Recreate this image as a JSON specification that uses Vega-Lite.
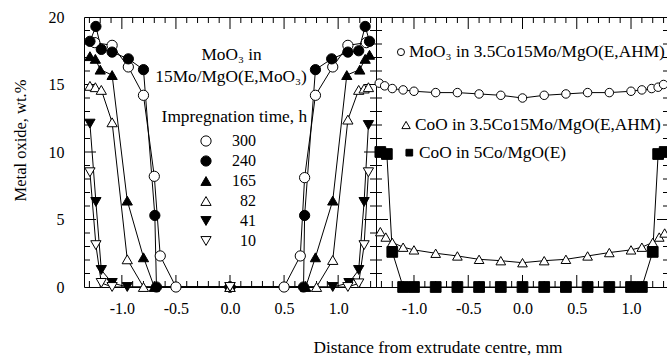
{
  "$schema": "https://vega.github.io/schema/vega-lite/v6.json",
  "usermeta": {"embedOptions": {"actions": false}},
  "padding": {"left": 11, "top": 8, "right": 0, "bottom": 0},
  "background": "white",
  "title": {"text": "Distance from extrudate centre, mm", "orient": "bottom", "anchor": "middle", "frame": "bounds", "dx": 96, "offset": 22, "fontSize": 17.3, "fontWeight": "normal", "font": "Liberation Serif", "color": "black"},
  "datasets": {
    "xMajor": [{"v": -1}, {"v": -0.5}, {"v": 0}, {"v": 0.5}, {"v": 1}],
    "xMinor": [{"v": -1.3}, {"v": -1.2}, {"v": -1.1}, {"v": -0.9}, {"v": -0.8}, {"v": -0.7}, {"v": -0.6}, {"v": -0.4}, {"v": -0.3}, {"v": -0.2}, {"v": -0.1}, {"v": 0.1}, {"v": 0.2}, {"v": 0.3}, {"v": 0.4}, {"v": 0.6}, {"v": 0.7}, {"v": 0.8}, {"v": 0.9}, {"v": 1.1}, {"v": 1.2}, {"v": 1.3}],
    "yMajor": [{"v": 5}, {"v": 10}, {"v": 15}],
    "yMinor": [{"v": 1}, {"v": 2}, {"v": 3}, {"v": 4}, {"v": 6}, {"v": 7}, {"v": 8}, {"v": 9}, {"v": 11}, {"v": 12}, {"v": 13}, {"v": 14}, {"v": 16}, {"v": 17}, {"v": 18}, {"v": 19}],
    "left": [
      {"x": -1.25, "y": 18.1, "series": "300"}, {"x": -1.09, "y": 17.9, "series": "300"}, {"x": -0.94, "y": 16.3, "series": "300"}, {"x": -0.8, "y": 14.2, "series": "300"}, {"x": -0.7, "y": 8.2, "series": "300"}, {"x": -0.645, "y": 2.3, "series": "300"}, {"x": -0.5, "y": 0, "series": "300"}, {"x": 0, "y": 0, "series": "300"}, {"x": 0.5, "y": 0, "series": "300"}, {"x": 0.65, "y": 2.3, "series": "300"}, {"x": 0.69, "y": 8.1, "series": "300"}, {"x": 0.79, "y": 14.2, "series": "300"}, {"x": 0.95, "y": 16.3, "series": "300"}, {"x": 1.09, "y": 17.9, "series": "300"}, {"x": 1.26, "y": 18.1, "series": "300"},
      {"x": -1.295, "y": 18.2, "series": "240"}, {"x": -1.24, "y": 19.3, "series": "240"}, {"x": -1.19, "y": 17.6, "series": "240"}, {"x": -1.09, "y": 17.4, "series": "240"}, {"x": -0.94, "y": 16.9, "series": "240"}, {"x": -0.8, "y": 16.1, "series": "240"}, {"x": -0.695, "y": 5.3, "series": "240"}, {"x": -0.68, "y": 0, "series": "240"}, {"x": 0, "y": 0, "series": "240"}, {"x": 0.68, "y": 0, "series": "240"}, {"x": 0.69, "y": 5.3, "series": "240"}, {"x": 0.79, "y": 16.1, "series": "240"}, {"x": 0.94, "y": 16.9, "series": "240"}, {"x": 1.09, "y": 17.4, "series": "240"}, {"x": 1.19, "y": 17.5, "series": "240"}, {"x": 1.25, "y": 19.3, "series": "240"}, {"x": 1.29, "y": 18.2, "series": "240"},
      {"x": -1.295, "y": 17.1, "series": "165"}, {"x": -1.245, "y": 16.9, "series": "165"}, {"x": -1.2, "y": 16.1, "series": "165"}, {"x": -1.09, "y": 15.7, "series": "165"}, {"x": -0.95, "y": 6.4, "series": "165"}, {"x": -0.8, "y": 2.2, "series": "165"}, {"x": -0.7, "y": 0, "series": "165"}, {"x": 0, "y": 0, "series": "165"}, {"x": 0.7, "y": 0, "series": "165"}, {"x": 0.79, "y": 2.2, "series": "165"}, {"x": 0.95, "y": 6.4, "series": "165"}, {"x": 1.08, "y": 15.7, "series": "165"}, {"x": 1.2, "y": 16.1, "series": "165"}, {"x": 1.25, "y": 16.9, "series": "165"}, {"x": 1.29, "y": 17.2, "series": "165"},
      {"x": -1.295, "y": 14.9, "series": "82"}, {"x": -1.245, "y": 14.8, "series": "82"}, {"x": -1.19, "y": 14.6, "series": "82"}, {"x": -1.09, "y": 12.2, "series": "82"}, {"x": -0.95, "y": 2.05, "series": "82"}, {"x": -0.8, "y": 0, "series": "82"}, {"x": 0, "y": 0, "series": "82"}, {"x": 0.8, "y": 0, "series": "82"}, {"x": 0.95, "y": 2.0, "series": "82"}, {"x": 1.09, "y": 12.4, "series": "82"}, {"x": 1.19, "y": 14.6, "series": "82"}, {"x": 1.24, "y": 14.7, "series": "82"}, {"x": 1.28, "y": 14.8, "series": "82"},
      {"x": -1.295, "y": 12.1, "series": "41"}, {"x": -1.24, "y": 6.3, "series": "41"}, {"x": -1.19, "y": 1.26, "series": "41"}, {"x": -1.09, "y": 0.3, "series": "41"}, {"x": -0.95, "y": 0, "series": "41"}, {"x": 0, "y": 0, "series": "41"}, {"x": 0.95, "y": 0, "series": "41"}, {"x": 1.1, "y": 0.3, "series": "41"}, {"x": 1.19, "y": 1.26, "series": "41"}, {"x": 1.24, "y": 6.3, "series": "41"}, {"x": 1.28, "y": 12.0, "series": "41"},
      {"x": -1.295, "y": 8.5, "series": "10"}, {"x": -1.24, "y": 3.1, "series": "10"}, {"x": -1.19, "y": 0.3, "series": "10"}, {"x": -1.09, "y": 0, "series": "10"}, {"x": 0, "y": 0, "series": "10"}, {"x": 1.09, "y": 0, "series": "10"}, {"x": 1.19, "y": 0.27, "series": "10"}, {"x": 1.24, "y": 3.1, "series": "10"}, {"x": 1.28, "y": 8.5, "series": "10"}
    ],
    "right": [
      {"x": -1.32, "y": 15.1, "series": "MoO3 AHM"}, {"x": -1.27, "y": 14.9, "series": "MoO3 AHM"}, {"x": -1.2, "y": 14.7, "series": "MoO3 AHM"}, {"x": -1.1, "y": 14.6, "series": "MoO3 AHM"}, {"x": -1.0, "y": 14.5, "series": "MoO3 AHM"}, {"x": -0.8, "y": 14.4, "series": "MoO3 AHM"}, {"x": -0.6, "y": 14.4, "series": "MoO3 AHM"}, {"x": -0.4, "y": 14.3, "series": "MoO3 AHM"}, {"x": -0.2, "y": 14.2, "series": "MoO3 AHM"}, {"x": 0, "y": 14.0, "series": "MoO3 AHM"}, {"x": 0.2, "y": 14.2, "series": "MoO3 AHM"}, {"x": 0.4, "y": 14.3, "series": "MoO3 AHM"}, {"x": 0.6, "y": 14.4, "series": "MoO3 AHM"}, {"x": 0.8, "y": 14.4, "series": "MoO3 AHM"}, {"x": 1.0, "y": 14.5, "series": "MoO3 AHM"}, {"x": 1.1, "y": 14.6, "series": "MoO3 AHM"}, {"x": 1.19, "y": 14.7, "series": "MoO3 AHM"}, {"x": 1.25, "y": 14.8, "series": "MoO3 AHM"}, {"x": 1.3, "y": 15.0, "series": "MoO3 AHM"},
      {"x": -1.31, "y": 4.1, "series": "CoO AHM"}, {"x": -1.26, "y": 3.7, "series": "CoO AHM"}, {"x": -1.2, "y": 3.3, "series": "CoO AHM"}, {"x": -1.1, "y": 2.95, "series": "CoO AHM"}, {"x": -1.0, "y": 2.75, "series": "CoO AHM"}, {"x": -0.8, "y": 2.5, "series": "CoO AHM"}, {"x": -0.6, "y": 2.3, "series": "CoO AHM"}, {"x": -0.4, "y": 2.05, "series": "CoO AHM"}, {"x": -0.2, "y": 1.95, "series": "CoO AHM"}, {"x": 0, "y": 1.8, "series": "CoO AHM"}, {"x": 0.2, "y": 1.95, "series": "CoO AHM"}, {"x": 0.4, "y": 2.05, "series": "CoO AHM"}, {"x": 0.6, "y": 2.3, "series": "CoO AHM"}, {"x": 0.8, "y": 2.55, "series": "CoO AHM"}, {"x": 1.0, "y": 2.75, "series": "CoO AHM"}, {"x": 1.1, "y": 2.95, "series": "CoO AHM"}, {"x": 1.2, "y": 3.3, "series": "CoO AHM"}, {"x": 1.26, "y": 3.7, "series": "CoO AHM"}, {"x": 1.31, "y": 4.0, "series": "CoO AHM"},
      {"x": -1.31, "y": 10.0, "series": "CoO 5Co"}, {"x": -1.25, "y": 9.85, "series": "CoO 5Co"}, {"x": -1.2, "y": 2.6, "series": "CoO 5Co"}, {"x": -1.1, "y": 0, "series": "CoO 5Co"}, {"x": -1.0, "y": 0, "series": "CoO 5Co"}, {"x": -0.8, "y": 0, "series": "CoO 5Co"}, {"x": -0.6, "y": 0, "series": "CoO 5Co"}, {"x": -0.4, "y": 0, "series": "CoO 5Co"}, {"x": -0.2, "y": 0, "series": "CoO 5Co"}, {"x": 0, "y": 0, "series": "CoO 5Co"}, {"x": 0.2, "y": 0, "series": "CoO 5Co"}, {"x": 0.4, "y": 0, "series": "CoO 5Co"}, {"x": 0.6, "y": 0, "series": "CoO 5Co"}, {"x": 0.8, "y": 0, "series": "CoO 5Co"}, {"x": 1.0, "y": 0, "series": "CoO 5Co"}, {"x": 1.1, "y": 0, "series": "CoO 5Co"}, {"x": 1.2, "y": 2.6, "series": "CoO 5Co"}, {"x": 1.25, "y": 9.85, "series": "CoO 5Co"}, {"x": 1.31, "y": 10.0, "series": "CoO 5Co"}
    ]
  },
  "spacing": 0,
  "bounds": "flush",
  "resolve": {"scale": {"shape": "independent", "fill": "independent", "size": "independent"}},
  "hconcat": [
    {
      "width": 292,
      "height": 270,
      "layer": [
        {
          "data": {"name": "left"},
          "mark": {"type": "line", "color": "black", "strokeWidth": 1},
          "encoding": {
            "x": {"field": "x", "type": "quantitative", "scale": {"domain": [-1.35, 1.35], "nice": false, "zero": false},
                  "axis": {"orient": "bottom", "values": [-1, -0.5, 0, 0.5, 1], "ticks": false, "grid": false, "labelPadding": 13, "labelExpr": "replace(format(datum.value, '.1f'), '\u2212', '-')", "title": null, "domain": false, "labelOverlap": false, "labelFlush": false}},
            "y": {"field": "y", "type": "quantitative", "scale": {"domain": [0, 20], "nice": false, "zero": false},
                  "axis": {"orient": "left", "values": [0, 5, 10, 15, 20], "ticks": false, "grid": false, "labelPadding": 20, "title": "Metal oxide, wt.%", "titleX": -64, "titleY": 123, "titleAngle": -90, "titleAlign": "center", "titleBaseline": "middle", "titleFontSize": 16.5, "domain": false, "labelOverlap": false, "labelFlush": false}},
            "detail": {"field": "series", "type": "nominal"}
          }
        },
        {"data": {"name": "xMajor"}, "mark": {"type": "tick", "orient": "vertical", "size": 24, "thickness": 1, "color": "black", "opacity": 1, "clip": true},
         "encoding": {"x": {"field": "v", "type": "quantitative"}, "y": {"datum": 0}}},
        {"data": {"name": "xMajor"}, "mark": {"type": "tick", "orient": "vertical", "size": 24, "thickness": 1, "color": "black", "opacity": 1, "clip": true},
         "encoding": {"x": {"field": "v", "type": "quantitative"}, "y": {"datum": 20}}},
        {"data": {"name": "xMinor"}, "mark": {"type": "tick", "orient": "vertical", "size": 12, "thickness": 1, "color": "black", "opacity": 1, "clip": true},
         "encoding": {"x": {"field": "v", "type": "quantitative"}, "y": {"datum": 0}}},
        {"data": {"name": "xMinor"}, "mark": {"type": "tick", "orient": "vertical", "size": 12, "thickness": 1, "color": "black", "opacity": 1, "clip": true},
         "encoding": {"x": {"field": "v", "type": "quantitative"}, "y": {"datum": 20}}},
        {"data": {"name": "yMajor"}, "mark": {"type": "tick", "orient": "horizontal", "size": 24, "thickness": 1, "color": "black", "opacity": 1, "clip": true},
         "encoding": {"y": {"field": "v", "type": "quantitative"}, "x": {"datum": -1.35}}},
        {"data": {"name": "yMajor"}, "mark": {"type": "tick", "orient": "horizontal", "size": 24, "thickness": 1, "color": "black", "opacity": 1, "clip": true},
         "encoding": {"y": {"field": "v", "type": "quantitative"}, "x": {"datum": 1.35}}},
        {"data": {"name": "yMinor"}, "mark": {"type": "tick", "orient": "horizontal", "size": 12, "thickness": 1, "color": "black", "opacity": 1, "clip": true},
         "encoding": {"y": {"field": "v", "type": "quantitative"}, "x": {"datum": -1.35}}},
        {"data": {"name": "yMinor"}, "mark": {"type": "tick", "orient": "horizontal", "size": 12, "thickness": 1, "color": "black", "opacity": 1, "clip": true},
         "encoding": {"y": {"field": "v", "type": "quantitative"}, "x": {"datum": 1.35}}},
        {
          "data": {"name": "left"},
          "mark": {"type": "point", "filled": true, "stroke": "black", "strokeWidth": 1, "size": 105, "opacity": 1},
          "encoding": {
            "x": {"field": "x", "type": "quantitative"},
            "y": {"field": "y", "type": "quantitative"},
            "shape": {"field": "series", "type": "nominal",
                      "scale": {"domain": ["300", "240", "165", "82", "41", "10"], "range": ["circle", "circle", "triangle-up", "triangle-up", "triangle-down", "triangle-down"]},
                      "legend": {"orient": "none", "legendX": 114, "legendY": 116, "title": null, "labelAlign": "right", "labelOffset": 42, "symbolStrokeWidth": 1, "symbolSize": 105, "labelFontSize": 16, "labelFont": "Liberation Serif", "labelColor": "black", "rowPadding": 4, "padding": 0}},
            "fill": {"field": "series", "type": "nominal",
                     "scale": {"domain": ["300", "240", "165", "82", "41", "10"], "range": ["white", "black", "black", "white", "black", "white"]},
                     "legend": {"orient": "none", "legendX": 114, "legendY": 116, "title": null, "labelAlign": "right", "labelOffset": 42, "symbolStrokeWidth": 1, "symbolSize": 105, "labelFontSize": 16, "labelFont": "Liberation Serif", "labelColor": "black", "rowPadding": 4, "padding": 0}}
          }
        },
        {
          "data": {"values": [{}]},
          "mark": {"type": "text", "align": "center", "baseline": "middle", "fontSize": 17.3, "font": "Liberation Serif", "color": "black"},
          "encoding": {"x": {"datum": 0.015}, "y": {"datum": 17.2}, "text": {"value": "MoO₃ in"}}
        },
        {
          "data": {"values": [{}]},
          "mark": {"type": "text", "align": "center", "baseline": "middle", "fontSize": 17.3, "font": "Liberation Serif", "color": "black"},
          "encoding": {"x": {"datum": 0.01}, "y": {"datum": 15.55}, "text": {"value": "15Mo/MgO(E,MoO₃)"}}
        },
        {
          "data": {"values": [{}]},
          "mark": {"type": "text", "align": "center", "baseline": "middle", "fontSize": 17.3, "font": "Liberation Serif", "color": "black"},
          "encoding": {"x": {"datum": 0.04}, "y": {"datum": 12.6}, "text": {"value": "Impregnation time, h"}}
        }
      ]
    },
    {
      "width": 293,
      "height": 270,
      "layer": [
        {
          "data": {"name": "right"},
          "mark": {"type": "line", "color": "black", "strokeWidth": 1},
          "encoding": {
            "x": {"field": "x", "type": "quantitative", "scale": {"domain": [-1.35, 1.35], "nice": false, "zero": false},
                  "axis": {"orient": "bottom", "values": [-1, -0.5, 0, 0.5, 1], "ticks": false, "grid": false, "labelPadding": 13, "labelExpr": "replace(format(datum.value, '.1f'), '\u2212', '-')", "title": null, "domain": false, "labelOverlap": false, "labelFlush": false}},
            "y": {"field": "y", "type": "quantitative", "scale": {"domain": [0, 20], "nice": false, "zero": false},
                  "axis": {"orient": "left", "labels": false, "ticks": false, "grid": false, "domain": false, "title": null}},
            "detail": {"field": "series", "type": "nominal"}
          }
        },
        {"data": {"name": "xMajor"}, "mark": {"type": "tick", "orient": "vertical", "size": 24, "thickness": 1, "color": "black", "opacity": 1, "clip": true},
         "encoding": {"x": {"field": "v", "type": "quantitative"}, "y": {"datum": 0}}},
        {"data": {"name": "xMajor"}, "mark": {"type": "tick", "orient": "vertical", "size": 24, "thickness": 1, "color": "black", "opacity": 1, "clip": true},
         "encoding": {"x": {"field": "v", "type": "quantitative"}, "y": {"datum": 20}}},
        {"data": {"name": "xMinor"}, "mark": {"type": "tick", "orient": "vertical", "size": 12, "thickness": 1, "color": "black", "opacity": 1, "clip": true},
         "encoding": {"x": {"field": "v", "type": "quantitative"}, "y": {"datum": 0}}},
        {"data": {"name": "xMinor"}, "mark": {"type": "tick", "orient": "vertical", "size": 12, "thickness": 1, "color": "black", "opacity": 1, "clip": true},
         "encoding": {"x": {"field": "v", "type": "quantitative"}, "y": {"datum": 20}}},
        {"data": {"name": "yMajor"}, "mark": {"type": "tick", "orient": "horizontal", "size": 24, "thickness": 1, "color": "black", "opacity": 1, "clip": true},
         "encoding": {"y": {"field": "v", "type": "quantitative"}, "x": {"datum": -1.35}}},
        {"data": {"name": "yMajor"}, "mark": {"type": "tick", "orient": "horizontal", "size": 24, "thickness": 1, "color": "black", "opacity": 1, "clip": true},
         "encoding": {"y": {"field": "v", "type": "quantitative"}, "x": {"datum": 1.35}}},
        {"data": {"name": "yMinor"}, "mark": {"type": "tick", "orient": "horizontal", "size": 12, "thickness": 1, "color": "black", "opacity": 1, "clip": true},
         "encoding": {"y": {"field": "v", "type": "quantitative"}, "x": {"datum": -1.35}}},
        {"data": {"name": "yMinor"}, "mark": {"type": "tick", "orient": "horizontal", "size": 12, "thickness": 1, "color": "black", "opacity": 1, "clip": true},
         "encoding": {"y": {"field": "v", "type": "quantitative"}, "x": {"datum": 1.35}}},
        {
          "data": {"name": "right"},
          "mark": {"type": "point", "filled": true, "stroke": "black", "strokeWidth": 1, "opacity": 1},
          "encoding": {
            "x": {"field": "x", "type": "quantitative"},
            "y": {"field": "y", "type": "quantitative"},
            "shape": {"field": "series", "type": "nominal", "scale": {"domain": ["MoO3 AHM", "CoO AHM", "CoO 5Co"], "range": ["circle", "triangle-up", "square"]}, "legend": null},
            "fill": {"field": "series", "type": "nominal", "scale": {"domain": ["MoO3 AHM", "CoO AHM", "CoO 5Co"], "range": ["white", "white", "black"]}, "legend": null},
            "size": {"field": "series", "type": "ordinal", "scale": {"domain": ["MoO3 AHM", "CoO AHM", "CoO 5Co"], "range": [72, 115, 64]}, "legend": null}
          }
        },
        {
          "data": {"values": [{}]},
          "mark": {"type": "point", "shape": "circle", "filled": true, "fill": "white", "stroke": "black", "strokeWidth": 1, "size": 50, "opacity": 1},
          "encoding": {"x": {"datum": -1.12}, "y": {"datum": 17.4}}
        },
        {
          "data": {"values": [{}]},
          "mark": {"type": "point", "shape": "triangle-up", "filled": true, "fill": "white", "stroke": "black", "strokeWidth": 1, "size": 70, "opacity": 1},
          "encoding": {"x": {"datum": -1.073}, "y": {"datum": 12.0}}
        },
        {
          "data": {"values": [{}]},
          "mark": {"type": "point", "shape": "square", "filled": true, "fill": "black", "stroke": "black", "strokeWidth": 1, "size": 45, "opacity": 1},
          "encoding": {"x": {"datum": -1.043}, "y": {"datum": 9.95}}
        },
        {
          "data": {"values": [{}]},
          "mark": {"type": "text", "align": "left", "baseline": "middle", "fontSize": 17.3, "font": "Liberation Serif", "color": "black"},
          "encoding": {"x": {"datum": -1.045}, "y": {"datum": 17.4}, "text": {"value": "MoO₃ in 3.5Co15Mo/MgO(E,AHM)"}}
        },
        {
          "data": {"values": [{}]},
          "mark": {"type": "text", "align": "left", "baseline": "middle", "fontSize": 17.3, "font": "Liberation Serif", "color": "black"},
          "encoding": {"x": {"datum": -0.99}, "y": {"datum": 12.0}, "text": {"value": "CoO in 3.5Co15Mo/MgO(E,AHM)"}}
        },
        {
          "data": {"values": [{}]},
          "mark": {"type": "text", "align": "left", "baseline": "middle", "fontSize": 17.3, "font": "Liberation Serif", "color": "black"},
          "encoding": {"x": {"datum": -0.953}, "y": {"datum": 9.93}, "text": {"value": "CoO in 5Co/MgO(E)"}}
        }
      ]
    }
  ],
  "config": {
    "font": "Liberation Serif",
    "view": {"stroke": "black", "strokeWidth": 1},
    "axis": {"domainColor": "black", "labelColor": "black", "labelFont": "Liberation Serif", "labelFontSize": 16, "titleFont": "Liberation Serif", "titleFontSize": 16, "titleFontWeight": "normal", "titleColor": "black", "domainWidth": 1},
    "text": {"font": "Liberation Serif", "fontSize": 16, "color": "black"}
  }
}
